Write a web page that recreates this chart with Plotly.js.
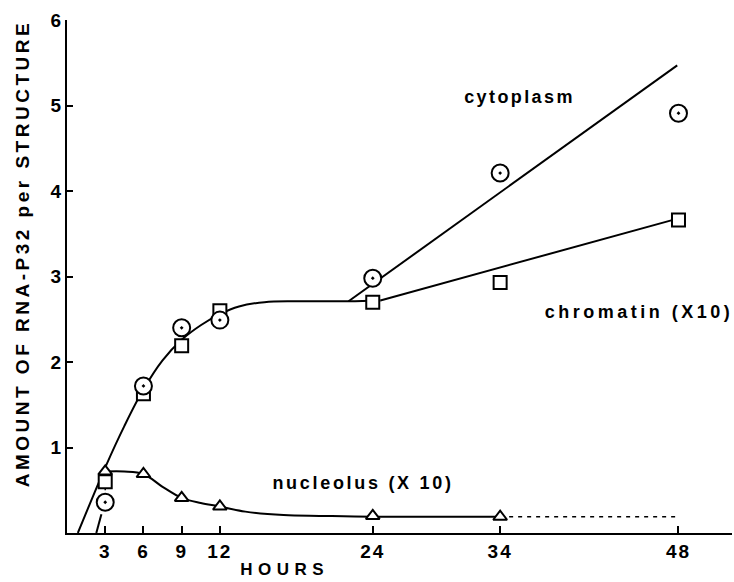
<!DOCTYPE html>
<html><head><meta charset="utf-8">
<script src="https://cdn.plot.ly/plotly-3.0.1.min.js"></script>
<style>
html,body{margin:0;padding:0;background:#fff;}
#chart{width:734px;height:582px;}
.xtick text {letter-spacing:2px;}
.annotation[data-index="0"] text {letter-spacing:2.4px;}
.annotation[data-index="1"] text {letter-spacing:3.5px;}
.annotation[data-index="2"] text {letter-spacing:2.7px;}
.annotation[data-index="3"] text {letter-spacing:5.5px;}
.annotation[data-index="4"] text {letter-spacing:3.5px;}
</style></head><body><div id="chart"></div>
<script>
// measured values
const hours = [3, 6, 9, 12, 24, 34, 48];
const cytoplasm = [0.36, 1.72, 2.40, 2.49, 2.98, 4.21, 4.91];
const chromatin = [0.60, 1.63, 2.19, 2.60, 2.70, 2.93, 3.66];
const nucleolusHours = [3, 6, 9, 12, 24, 34];
const nucleolus = [0.72, 0.69, 0.41, 0.31, 0.20, 0.19];

// hand-drawn curves
const sharedCurveX = [0.85, 3.1, 4.5, 6, 7.5, 9, 10.5, 12, 13.5, 15.5, 18, 22.1, 24.6];
const sharedCurveY = [0, 0.80, 1.25, 1.68, 2.02, 2.26, 2.43, 2.56, 2.65, 2.70, 2.71, 2.71, 2.72];
const chromatinLineX = [24.6, 48];
const chromatinLineY = [2.72, 3.68];
const cytoplasmLineX = [22.1, 47.9];
const cytoplasmLineY = [2.71, 5.47];
const cytoStartX = [2.3, 2.7];
const cytoStartY = [0, 0.22];
const link3X = [3, 3];
const link3Y = [0.36, 0.62];
const nucleolusCurveX = [3, 4.5, 6, 7.5, 9, 10.5, 12, 14, 17, 20, 24, 34];
const nucleolusCurveY = [0.72, 0.72, 0.69, 0.54, 0.41, 0.35, 0.31, 0.25, 0.21, 0.20, 0.19, 0.19];
const nucleolusDashX = [34, 48];
const nucleolusDashY = [0.19, 0.19];

const xTicks = [3, 6, 9, 12, 24, 34, 48];
const yTicks = [1, 2, 3, 4, 5, 6];

const FONT = 'Liberation Sans, Arial, sans-serif';
const ln = (x, y, extra) => Object.assign({x: x, y: y, mode: 'lines', hoverinfo: 'skip',
  line: {color: '#000', width: 2}}, extra || {});

const traces = [
  ln(sharedCurveX, sharedCurveY, {line: {color: '#000', width: 2, shape: 'spline', smoothing: 1}}),
  ln(chromatinLineX, chromatinLineY),
  ln(cytoplasmLineX, cytoplasmLineY),
  ln(cytoStartX, cytoStartY),
  ln(link3X, link3Y, {line: {color: '#000', width: 1.5, dash: 'dot'}}),
  ln(nucleolusCurveX, nucleolusCurveY, {line: {color: '#000', width: 2, shape: 'spline', smoothing: 1}}),
  ln(nucleolusDashX, nucleolusDashY, {line: {color: '#000', width: 1.5, dash: '4px,5px'}}),
  {x: nucleolusHours, y: nucleolus, mode: 'markers', cliponaxis: false,
   marker: {symbol: 'triangle-up', size: 12, color: '#fff', line: {color: '#000', width: 2}}},
  {x: hours, y: chromatin, mode: 'markers', cliponaxis: false,
   marker: {symbol: 'square', size: 13, color: '#fff', line: {color: '#000', width: 2}}},
  {x: hours, y: cytoplasm, mode: 'markers', cliponaxis: false,
   marker: {symbol: 'circle-dot', size: 17, color: '#fff', line: {color: '#000', width: 2}}}
];

const layout = {
  width: 734, height: 582,
  margin: {l: 67, r: 2, t: 20, b: 49},
  paper_bgcolor: '#fff', plot_bgcolor: '#fff',
  showlegend: false,
  font: {family: FONT, color: '#000'},
  xaxis: {
    range: [0, 52.2], showgrid: false, zeroline: false,
    showline: true, linecolor: '#000', linewidth: 2,
    tickmode: 'array', tickvals: xTicks, ticktext: xTicks.map(String),
    ticks: 'inside', ticklen: 7, tickwidth: 2, tickcolor: '#000',
    tickfont: {family: FONT, size: 19, color: '#000', weight: 'bold'}
  },
  yaxis: {
    range: [0, 6], showgrid: false, zeroline: false,
    showline: true, linecolor: '#000', linewidth: 2,
    tickmode: 'array', tickvals: yTicks, ticktext: yTicks.map(String),
    ticks: 'inside', ticklen: 6, tickwidth: 2, tickcolor: '#000',
    tickfont: {family: FONT, size: 19, color: '#000', weight: 'bold'}
  },
  annotations: [
    {text: 'cytoplasm', x: 35.5, y: 5.10, xref: 'x', yref: 'y', xanchor: 'center', yanchor: 'middle',
     showarrow: false, font: {family: FONT, size: 18, weight: 'bold'}},
    {text: 'chromatin (X10)', x: 44.9, y: 2.58, xref: 'x', yref: 'y', xanchor: 'center', yanchor: 'middle',
     showarrow: false, font: {family: FONT, size: 18, weight: 'bold'}},
    {text: 'nucleolus (X 10)', x: 23.2, y: 0.585, xref: 'x', yref: 'y', xanchor: 'center', yanchor: 'middle',
     showarrow: false, font: {family: FONT, size: 18, weight: 'bold'}},
    {text: 'HOURS', x: 17.1, y: -0.072, xref: 'x', yref: 'paper', xanchor: 'center', yanchor: 'middle',
     showarrow: false, font: {family: FONT, size: 17, weight: 'bold'}},
    {text: 'AMOUNT OF RNA-P32 per STRUCTURE', x: -0.066, y: 0.544, xref: 'paper', yref: 'paper',
     xanchor: 'center', yanchor: 'middle',
     textangle: -90, showarrow: false, font: {family: FONT, size: 19, weight: 'bold'}}
  ]
};

Plotly.newPlot('chart', traces, layout, {staticPlot: true, displayModeBar: false});
</script></body></html>
